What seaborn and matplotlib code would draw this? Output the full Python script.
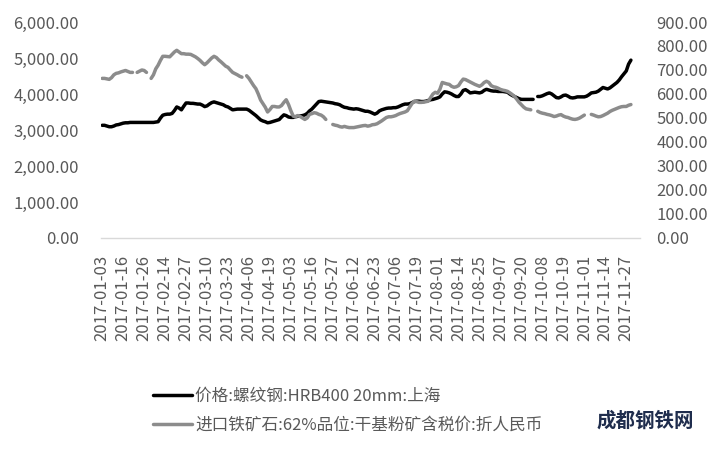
import numpy as np
import pandas as pd
import matplotlib.pyplot as plt
from matplotlib.lines import Line2D
from matplotlib.ticker import FuncFormatter
import seaborn as sns

# tick labels (every 9th trading day)
date_labels = ["2017-01-03", "2017-01-16", "2017-01-26", "2017-02-14", "2017-02-27",
               "2017-03-10", "2017-03-23", "2017-04-06", "2017-04-19", "2017-05-03",
               "2017-05-16", "2017-05-27", "2017-06-12", "2017-06-23", "2017-07-06",
               "2017-07-19", "2017-08-01", "2017-08-14", "2017-08-25", "2017-09-07",
               "2017-09-20", "2017-10-08", "2017-10-19", "2017-11-01", "2017-11-14",
               "2017-11-27"]

nan = np.nan
# rebar price, HRB400 20mm, Shanghai (left axis), one row per label interval
rebar = [
    3130, 3130, 3110, 3090, 3090, 3110, 3140, 3150, 3170,
    3190, 3200, 3200, 3210, 3210, 3210, 3210, 3210, 3210,
    3210, 3210, 3210, 3210, 3210, 3220, 3230, 3330, 3410,
    3430, 3440, 3440, 3460, 3540, 3640, 3610, 3560, 3660,
    3750, 3750, 3740, 3740, 3730, 3720, 3720, 3690, 3650,
    3670, 3720, 3760, 3780, 3760, 3740, 3720, 3700, 3660,
    3640, 3600, 3560, 3570, 3580, 3580, 3580, 3580, 3580,
    3550, 3500, 3450, 3400, 3340, 3280, 3250, 3230, 3200,
    3210, 3230, 3250, 3270, 3290, 3360, 3420, 3400, 3360,
    3350, 3350, 3370, 3380, 3390, 3400, 3420, 3460, 3530,
    3580, 3650, 3720, 3790, 3800, 3790, 3780, 3770, 3760,
    3750, 3730, 3720, 3700, 3660, 3630, 3620, 3600, 3590,
    3580, 3590, 3580, 3560, 3540, 3520, 3520, 3500, 3470,
    3440, 3470, 3530, 3560, 3580, 3600, 3610, 3610, 3620,
    3620, 3640, 3670, 3700, 3720, 3720, 3730, 3760, 3790,
    3800, 3800, 3790, 3790, 3800, 3820, 3840, 3850, 3870,
    3890, 3920, 4000, 4060, 4050, 4030, 4000, 3960, 3930,
    3930, 4000, 4100, 4120, 4080, 4030, 4040, 4050, 4040,
    4030, 4050, 4100, 4130, 4110, 4090, 4080, 4080, 4070,
    4070, 4070, 4060, 4050, 4000, 3960, 3930, 3900, 3870,
    3850, 3850, 3850, 3850, 3850, 3850, nan, 3930, 3930,
    3950, 3980, 4010, 4030, 4000, 3950, 3900, 3890, 3920,
    3960, 3970, 3940, 3900, 3890, 3900, 3920, 3920, 3920,
    3920, 3940, 3980, 4030, 4040, 4050, 4080, 4130, 4180,
    4160, 4140, 4170, 4220, 4270, 4320, 4390, 4480, 4560,
    4640, 4830, 4940,
]

# imported iron ore 62%, tax-included RMB price (right axis)
ore = [
    665, 665, 663, 661, 668, 680, 686, 688, 692,
    695, 698, 694, 690, 690, nan, 690, 695, 700,
    698, 690, nan, 665, 680, 705, 720, 740, 757,
    757, 756, 755, 765, 775, 782, 775, 768, 768,
    766, 766, 765, 760, 755, 748, 740, 730, 722,
    730, 740, 750, 757, 752, 742, 734, 725, 716,
    711, 700, 690, 685, 680, 674, 670, nan, 676,
    665, 650, 635, 622, 600, 575, 560, 545, 525,
    535, 548, 548, 546, 546, 552, 565, 576, 556,
    530, 508, 505, 510, 506, 500, 494, 500, 515,
    518, 522, 520, 515, 512, 505, 494, nan, nan,
    473, 470, 468, 464, 462, 465, 462, 460, 460,
    460, 462, 464, 466, 468, 469, 466, 468, 472,
    473, 476, 482, 488, 495, 502, 505, 505, 507,
    510, 515, 519, 522, 525, 530, 545, 560, 570,
    568, 565, 565, 566, 568, 570, 585, 600, 607,
    603, 620, 648, 645, 642, 640, 632, 628, 630,
    635, 650, 662, 660, 655, 650, 645, 640, 636,
    632, 638, 648, 653, 648, 635, 630, 628, 624,
    619, 616, 614, 611, 605, 598, 590, 578, 565,
    555, 545, 538, 536, 534, nan, nan, 528, 523,
    520, 518, 515, 513, 510, 506, 508, 512, 514,
    508, 504, 502, 498, 495, 494, 496, 500, 506,
    512, nan, nan, 515, 512, 508, 505, 506, 510,
    515, 520, 527, 532, 536, 540, 544, 547, 548,
    548, 553, 556,
]

label_rebar = "价格:螺纹钢:HRB400 20mm:上海"
label_ore = "进口铁矿石:62%品位:干基粉矿含税价:折人民币"


def segments(values):
    # split at missing days so the line shows gaps
    df = pd.DataFrame({"day": np.arange(len(values)), "value": values})
    df["seg"] = df["value"].isna().cumsum()
    return df.dropna()


sns.set_theme(style="white")
plt.rcParams["font.family"] = ["Noto Sans CJK SC", "DejaVu Sans"]
plt.rcParams["font.weight"] = "light"

fig = plt.figure(figsize=(7.27, 4.49), dpi=100)
ax = fig.add_axes([0.139, 0.470, 0.741, 0.481])
ax2 = ax.twinx()

sns.lineplot(data=segments(rebar), x="day", y="value", units="seg", estimator=None,
             color="black", linewidth=2.5, ax=ax, legend=False)
sns.lineplot(data=segments(ore), x="day", y="value", units="seg", estimator=None,
             color="#8c8c8c", linewidth=2.5, ax=ax2, legend=False)

grey = "#595959"
ax.set_xlim(-0.5, 230.8)
ax.set_ylim(0, 6000)
ax2.set_ylim(0, 900)
ax.set_yticks(np.arange(0, 6001, 1000))
ax2.set_yticks(np.arange(0, 901, 100))
ax.yaxis.set_major_formatter(FuncFormatter(lambda v, p: f"{v:,.2f}"))
ax2.yaxis.set_major_formatter(FuncFormatter(lambda v, p: f"{v:.2f}"))
ax.set_xticks(np.arange(len(date_labels)) * 9)
ax.set_xticklabels(date_labels, rotation=90)
ax.tick_params(axis="x", length=0, pad=12, labelsize=12, labelcolor=grey)
ax.tick_params(axis="y", length=0, pad=16, labelsize=12, labelcolor=grey)
ax2.tick_params(axis="y", length=0, pad=12, labelsize=12, labelcolor=grey)
ax.set_xlabel("")
ax.set_ylabel("")
ax2.set_ylabel("")
for a in (ax, ax2):
    for side in ["top", "right", "left", "bottom"]:
        a.spines[side].set_visible(False)
ax.spines["bottom"].set_visible(True)
ax.spines["bottom"].set_color("#d9d9d9")
ax.spines["bottom"].set_linewidth(1)

handles = [Line2D([], [], color="black", linewidth=2.5),
           Line2D([], [], color="#8c8c8c", linewidth=2.5)]
fig.legend(handles, [label_rebar, label_ore], loc="upper left",
           bbox_to_anchor=(0.211, 0.137), frameon=False, fontsize=12,
           handlelength=2.3, handletextpad=0.2, labelspacing=0.75,
           labelcolor=grey, borderaxespad=0, borderpad=0)

fig.text(0.955, 0.04, "成都钢铁网", fontsize=14, fontweight="bold",
         color="#1f2d4d", ha="right", va="bottom")

fig.savefig("out.png", dpi=100)
